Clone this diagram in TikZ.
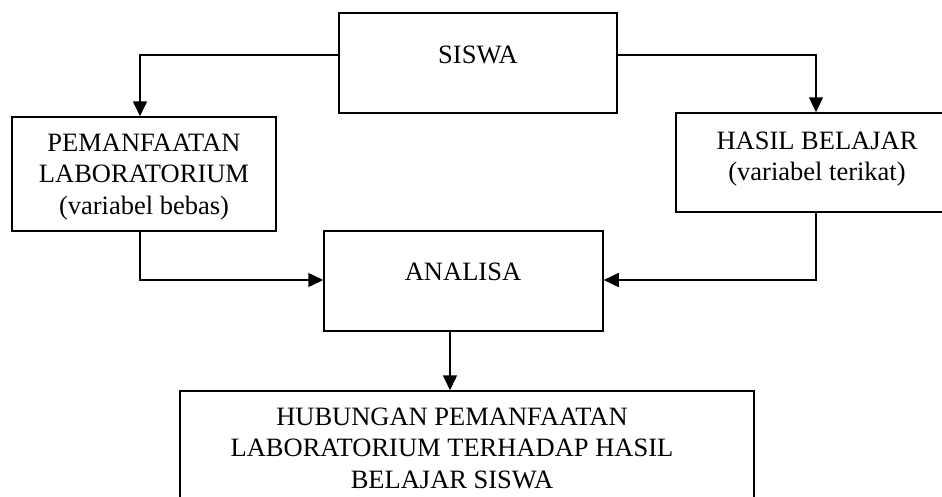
\documentclass[tikz,border=0pt]{standalone}
\usepackage{fontspec}
\setmainfont{Liberation Serif}
\usetikzlibrary{arrows.meta}
\begin{document}
\begin{tikzpicture}[x=1pt,y=-1pt,
  box/.style={draw, line width=1.5pt, rectangle, inner sep=0pt},
  lbl/.style={align=center, inner sep=0pt, font=\fontsize{26.5}{31.5}\selectfont},
  arr/.style={line width=1.5pt, -{Triangle[length=15pt,width=14pt]}}]
\useasboundingbox (0,0) rectangle (942,496);
\clip (0,0) rectangle (942,496);
% boxes
\node[box, minimum width=278pt, minimum height=100pt] (siswa) at (478,63) {};
\node[box, minimum width=264pt, minimum height=114pt] (lbox) at (144,174) {};
\node[box, minimum width=282pt, minimum height=99pt] (rbox) at (817,162.5) {};
\node[box, minimum width=279pt, minimum height=100pt] (analisa) at (463.5,281) {};
\node[box, minimum width=574pt, minimum height=150pt] (hub) at (467,466) {};
% texts
\node[lbl] (tsiswa) at (478,55) {SISWA};
\node[lbl] (tlbox) at (144,177) {PEMANFAATAN\\LABORATORIUM\\(variabel bebas)};
\node[lbl] (trbox) at (817,159) {HASIL BELAJAR\\(variabel terikat)};
\node[lbl] (tanalisa) at (463,272) {ANALISA};
\node[lbl] (thub) at (452,448) {HUBUNGAN PEMANFAATAN\\LABORATORIUM TERHADAP HASIL\\BELAJAR SISWA};
% connectors
\draw[arr] ([yshift=8pt]siswa.west) -| ([xshift=-4pt]lbox.north);
\draw[arr] ([yshift=8pt]siswa.east) -| ([xshift=-1pt]rbox.north);
\draw[arr] ([xshift=-4pt]lbox.south) |- ([yshift=1pt]analisa.west);
\draw[arr] ([xshift=-1pt]rbox.south) |- ([yshift=1pt]analisa.east);
\draw[arr] ([xshift=-13.5pt]analisa.south) -- ([xshift=-17pt]hub.north);
\end{tikzpicture}
\end{document}
